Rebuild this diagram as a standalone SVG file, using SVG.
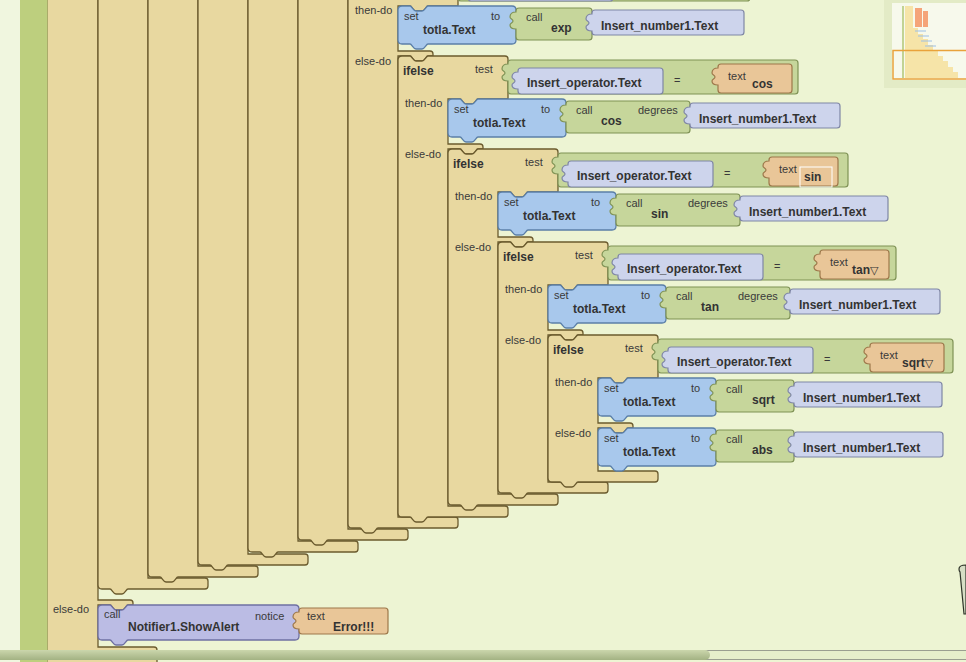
<svg xmlns="http://www.w3.org/2000/svg" width="966" height="662" viewBox="0 0 966 662">
<defs>
<linearGradient id="thumb" x1="0" y1="0" x2="0" y2="1">
<stop offset="0" stop-color="#CBD6AC"/><stop offset="1" stop-color="#A3B283"/>
</linearGradient>
</defs>
<style>
.tan{fill:#E8D8A0;stroke:#6B5B2E;stroke-width:1.3}
.set{fill:#A8C8EC;stroke:#5B7FA8;stroke-width:1.3}
.call{fill:#C6D69B;stroke:#7F9255;stroke-width:1.2}
.val{fill:#CDD4EC;stroke:#7F86A5;stroke-width:1.2}
.txt{fill:#E9C698;stroke:#9D774A;stroke-width:1.2}
.ntf{fill:#BBBCE4;stroke:#6F70A2;stroke-width:1.3}
.lb{font-family:"Liberation Sans",Arial,sans-serif;font-size:11px;fill:#3A3A3A}
.b{font-family:"Liberation Sans",Arial,sans-serif;font-size:12px;font-weight:bold;fill:#333}
.tri{font-family:"DejaVu Sans",sans-serif;font-weight:normal;font-size:11px}
</style>
<rect x="0" y="0" width="966" height="662" fill="#EDF4D3"/>
<rect x="0" y="0" width="20" height="662" fill="#F0F6DF"/>

<g id="block-outer">
<path class="tan" d="M47,-40 H98 V600 H130 q3,0 3,3 V605 H128 c-2,0 -3,5 -6,5 h-6 c-3,0 -4,-5 -6,-5 H98 V647 H154 q3,0 3,3 V670 H47 Z"/>
<text class="lb" x="53" y="613">else-do</text>
</g>
<rect x="20" y="0" width="27.5" height="662" fill="#BDCF7E"/>

<g id="ifelse-98"><path class="tan" d="M98,-40 H148 V578 H205 q3,0 3,3 V586 q0,3 -3,3 H128 c-2,0 -3,5 -6,5 h-6 c-3,0 -4,-5 -6,-5 H102 q-4,0 -4,-4 Z"/></g>
<g id="ifelse-148"><path class="tan" d="M148,-40 H198 V566 H255 q3,0 3,3 V574 q0,3 -3,3 H178 c-2,0 -3,5 -6,5 h-6 c-3,0 -4,-5 -6,-5 H152 q-4,0 -4,-4 Z"/></g>
<g id="ifelse-198"><path class="tan" d="M198,-40 H248 V554 H305 q3,0 3,3 V562 q0,3 -3,3 H228 c-2,0 -3,5 -6,5 h-6 c-3,0 -4,-5 -6,-5 H202 q-4,0 -4,-4 Z"/></g>
<g id="ifelse-248"><path class="tan" d="M248,-40 H298 V541 H355 q3,0 3,3 V549 q0,3 -3,3 H278 c-2,0 -3,5 -6,5 h-6 c-3,0 -4,-5 -6,-5 H252 q-4,0 -4,-4 Z"/></g>
<g id="ifelse-298"><path class="tan" d="M298,-40 H348 V529 H405 q3,0 3,3 V537 q0,3 -3,3 H328 c-2,0 -3,5 -6,5 h-6 c-3,0 -4,-5 -6,-5 H302 q-4,0 -4,-4 Z"/></g>

<g id="ifelse-exp">
<path class="tan" d="M348,-40 H458 V6 H428 c-2,0 -3,5 -6,5 h-6 c-3,0 -4,-5 -6,-5 H398 V51 H430 q3,0 3,3 V56 H428 c-2,0 -3,5 -6,5 h-6 c-3,0 -4,-5 -6,-5 H398 V517 H455 q3,0 3,3 V525 q0,3 -3,3 H378 c-2,0 -3,5 -6,5 h-6 c-3,0 -4,-5 -6,-5 H352 q-4,0 -4,-4 Z"/>
<path class="call" d="M461,-33 H747 q3,0 3,3 V-2 q0,3 -3,3 H461 q-3,0 -3,-3 V-12 c-4,0 -6,-1 -6,-4 c0,-2 3,-2 3,-4 c0,-2 -3,-2 -3,-4 c0,-3 2,-5 6,-5 V-30 q0,-3 3,-3 Z"/>
<path class="val" d="M471,-25 H610 q3,0 3,3 V-2 q0,3 -3,3 H471 q-3,0 -3,-3 V-4 c-4,0 -6,-1 -6,-4 c0,-2 3,-2 3,-4 c0,-2 -3,-2 -3,-4 c0,-3 2,-5 6,-5 V-22 q0,-3 3,-3 Z"/>
<text class="lb" x="355" y="14">then-do</text>
<text class="lb" x="355" y="65">else-do</text>
<path class="set" d="M398,10 q0,-4 4,-4 h8 c2,0 3,5 6,5 h6 c3,0 4,-5 6,-5 H512 q4,0 4,4 V40 q0,4 -4,4 H428 c-2,0 -3,5 -6,5 h-6 c-3,0 -4,-5 -6,-5 H402 q-4,0 -4,-4 Z"/>
<text class="lb" x="404" y="20">set</text><text class="b" x="423" y="34">totla.Text</text><text class="lb" x="491" y="20">to</text>
<path class="call" d="M519,8 H589 q3,0 3,3 V37 q0,3 -3,3 H519 q-3,0 -3,-3 V29 c-4,0 -6,-1 -6,-4 c0,-2 3,-2 3,-4 c0,-2 -3,-2 -3,-4 c0,-3 2,-5 6,-5 V11 q0,-3 3,-3 Z"/>
<text class="lb" x="526" y="21">call</text><text class="b" x="551" y="32">exp</text>
<path class="val" d="M595,10 H741 q3,0 3,3 V32 q0,3 -3,3 H595 q-3,0 -3,-3 V31 c-4,0 -6,-1 -6,-4 c0,-2 3,-2 3,-4 c0,-2 -3,-2 -3,-4 c0,-3 2,-5 6,-5 V13 q0,-3 3,-3 Z"/>
<text class="b" x="601" y="30">Insert_number1.Text</text>
</g>

<g id="ifelse-cos">
<path class="tan" d="M398,60 q0,-4 4,-4 h8 c2,0 3,5 6,5 h6 c3,0 4,-5 6,-5 H505 q3,0 3,3 V99 H478 c-2,0 -3,5 -6,5 h-6 c-3,0 -4,-5 -6,-5 H448 V144 H480 q3,0 3,3 V149 H478 c-2,0 -3,5 -6,5 h-6 c-3,0 -4,-5 -6,-5 H448 V506 H505 q3,0 3,3 V514 q0,3 -3,3 H428 c-2,0 -3,5 -6,5 h-6 c-3,0 -4,-5 -6,-5 H402 q-4,0 -4,-4 Z"/>
<text class="b" x="403" y="75" font-size="13">ifelse</text><text class="lb" x="475" y="73">test</text>
<text class="lb" x="405" y="107">then-do</text><text class="lb" x="405" y="158">else-do</text>
<path class="call" d="M511,60 H795 q3,0 3,3 V91 q0,3 -3,3 H511 q-3,0 -3,-3 V81 c-4,0 -6,-1 -6,-4 c0,-2 3,-2 3,-4 c0,-2 -3,-2 -3,-4 c0,-3 2,-5 6,-5 V63 q0,-3 3,-3 Z"/>
<path class="val" d="M521,68 H660 q3,0 3,3 V91 q0,3 -3,3 H521 q-3,0 -3,-3 V89 c-4,0 -6,-1 -6,-4 c0,-2 3,-2 3,-4 c0,-2 -3,-2 -3,-4 c0,-3 2,-5 6,-5 V71 q0,-3 3,-3 Z"/>
<text class="b" x="527" y="87">Insert_operator.Text</text>
<text class="lb" x="674" y="84">=</text>
<path class="txt" d="M721,64 H789 q3,0 3,3 V90 q0,3 -3,3 H721 q-3,0 -3,-3 V85 c-4,0 -6,-1 -6,-4 c0,-2 3,-2 3,-4 c0,-2 -3,-2 -3,-4 c0,-3 2,-5 6,-5 V67 q0,-3 3,-3 Z"/>
<text class="lb" x="728" y="80">text</text><text class="b" x="752" y="88">cos</text>
<path class="set" d="M448,103 q0,-4 4,-4 h8 c2,0 3,5 6,5 h6 c3,0 4,-5 6,-5 H562 q4,0 4,4 V133 q0,4 -4,4 H478 c-2,0 -3,5 -6,5 h-6 c-3,0 -4,-5 -6,-5 H452 q-4,0 -4,-4 Z"/>
<text class="lb" x="454" y="113">set</text><text class="b" x="473" y="127">totla.Text</text><text class="lb" x="541" y="113">to</text>
<path class="call" d="M569,101 H687 q3,0 3,3 V130 q0,3 -3,3 H569 q-3,0 -3,-3 V122 c-4,0 -6,-1 -6,-4 c0,-2 3,-2 3,-4 c0,-2 -3,-2 -3,-4 c0,-3 2,-5 6,-5 V104 q0,-3 3,-3 Z"/>
<text class="lb" x="576" y="114">call</text><text class="b" x="601" y="125">cos</text><text class="lb" x="638" y="114">degrees</text>
<path class="val" d="M693,103 H837 q3,0 3,3 V125 q0,3 -3,3 H693 q-3,0 -3,-3 V124 c-4,0 -6,-1 -6,-4 c0,-2 3,-2 3,-4 c0,-2 -3,-2 -3,-4 c0,-3 2,-5 6,-5 V106 q0,-3 3,-3 Z"/>
<text class="b" x="699" y="123">Insert_number1.Text</text>
</g>

<g id="ifelse-sin">
<path class="tan" d="M448,153 q0,-4 4,-4 h8 c2,0 3,5 6,5 h6 c3,0 4,-5 6,-5 H555 q3,0 3,3 V192 H528 c-2,0 -3,5 -6,5 h-6 c-3,0 -4,-5 -6,-5 H498 V237 H530 q3,0 3,3 V242 H528 c-2,0 -3,5 -6,5 h-6 c-3,0 -4,-5 -6,-5 H498 V494 H555 q3,0 3,3 V502 q0,3 -3,3 H478 c-2,0 -3,5 -6,5 h-6 c-3,0 -4,-5 -6,-5 H452 q-4,0 -4,-4 Z"/>
<text class="b" x="453" y="168" font-size="13">ifelse</text><text class="lb" x="525" y="166">test</text>
<text class="lb" x="455" y="200">then-do</text><text class="lb" x="455" y="251">else-do</text>
<path class="call" d="M561,153 H845 q3,0 3,3 V184 q0,3 -3,3 H561 q-3,0 -3,-3 V174 c-4,0 -6,-1 -6,-4 c0,-2 3,-2 3,-4 c0,-2 -3,-2 -3,-4 c0,-3 2,-5 6,-5 V156 q0,-3 3,-3 Z"/>
<path class="val" d="M571,161 H710 q3,0 3,3 V184 q0,3 -3,3 H571 q-3,0 -3,-3 V182 c-4,0 -6,-1 -6,-4 c0,-2 3,-2 3,-4 c0,-2 -3,-2 -3,-4 c0,-3 2,-5 6,-5 V164 q0,-3 3,-3 Z"/>
<text class="b" x="577" y="180">Insert_operator.Text</text>
<text class="lb" x="724" y="177">=</text>
<path class="txt" d="M772,157 H835 q3,0 3,3 V183 q0,3 -3,3 H772 q-3,0 -3,-3 V178 c-4,0 -6,-1 -6,-4 c0,-2 3,-2 3,-4 c0,-2 -3,-2 -3,-4 c0,-3 2,-5 6,-5 V160 q0,-3 3,-3 Z"/>
<text class="lb" x="779" y="173">text</text>
<rect x="800" y="167" width="32" height="20" fill="none" stroke="#FFFFFF" stroke-width="1"/>
<text class="b" x="804" y="181">sin</text>
<path class="set" d="M498,196 q0,-4 4,-4 h8 c2,0 3,5 6,5 h6 c3,0 4,-5 6,-5 H612 q4,0 4,4 V226 q0,4 -4,4 H528 c-2,0 -3,5 -6,5 h-6 c-3,0 -4,-5 -6,-5 H502 q-4,0 -4,-4 Z"/>
<text class="lb" x="504" y="206">set</text><text class="b" x="523" y="220">totla.Text</text><text class="lb" x="591" y="206">to</text>
<path class="call" d="M619,194 H737 q3,0 3,3 V223 q0,3 -3,3 H619 q-3,0 -3,-3 V215 c-4,0 -6,-1 -6,-4 c0,-2 3,-2 3,-4 c0,-2 -3,-2 -3,-4 c0,-3 2,-5 6,-5 V197 q0,-3 3,-3 Z"/>
<text class="lb" x="626" y="207">call</text><text class="b" x="651" y="218">sin</text><text class="lb" x="688" y="207">degrees</text>
<path class="val" d="M743,196 H885 q3,0 3,3 V218 q0,3 -3,3 H743 q-3,0 -3,-3 V217 c-4,0 -6,-1 -6,-4 c0,-2 3,-2 3,-4 c0,-2 -3,-2 -3,-4 c0,-3 2,-5 6,-5 V199 q0,-3 3,-3 Z"/>
<text class="b" x="749" y="216">Insert_number1.Text</text>
</g>

<g id="ifelse-tan">
<path class="tan" d="M498,246 q0,-4 4,-4 h8 c2,0 3,5 6,5 h6 c3,0 4,-5 6,-5 H605 q3,0 3,3 V285 H578 c-2,0 -3,5 -6,5 h-6 c-3,0 -4,-5 -6,-5 H548 V330 H580 q3,0 3,3 V335 H578 c-2,0 -3,5 -6,5 h-6 c-3,0 -4,-5 -6,-5 H548 V482 H605 q3,0 3,3 V490 q0,3 -3,3 H528 c-2,0 -3,5 -6,5 h-6 c-3,0 -4,-5 -6,-5 H502 q-4,0 -4,-4 Z"/>
<text class="b" x="503" y="261" font-size="13">ifelse</text><text class="lb" x="575" y="259">test</text>
<text class="lb" x="505" y="293">then-do</text><text class="lb" x="505" y="344">else-do</text>
<path class="call" d="M611,246 H893 q3,0 3,3 V277 q0,3 -3,3 H611 q-3,0 -3,-3 V267 c-4,0 -6,-1 -6,-4 c0,-2 3,-2 3,-4 c0,-2 -3,-2 -3,-4 c0,-3 2,-5 6,-5 V249 q0,-3 3,-3 Z"/>
<path class="val" d="M621,254 H760 q3,0 3,3 V277 q0,3 -3,3 H621 q-3,0 -3,-3 V275 c-4,0 -6,-1 -6,-4 c0,-2 3,-2 3,-4 c0,-2 -3,-2 -3,-4 c0,-3 2,-5 6,-5 V257 q0,-3 3,-3 Z"/>
<text class="b" x="627" y="273">Insert_operator.Text</text>
<text class="lb" x="774" y="270">=</text>
<path class="txt" d="M823,250 H886 q3,0 3,3 V276 q0,3 -3,3 H823 q-3,0 -3,-3 V271 c-4,0 -6,-1 -6,-4 c0,-2 3,-2 3,-4 c0,-2 -3,-2 -3,-4 c0,-3 2,-5 6,-5 V253 q0,-3 3,-3 Z"/>
<text class="lb" x="830" y="266">text</text><text class="b" x="852" y="274">tan<tspan class="tri">▽</tspan></text>
<path class="set" d="M548,289 q0,-4 4,-4 h8 c2,0 3,5 6,5 h6 c3,0 4,-5 6,-5 H662 q4,0 4,4 V319 q0,4 -4,4 H578 c-2,0 -3,5 -6,5 h-6 c-3,0 -4,-5 -6,-5 H552 q-4,0 -4,-4 Z"/>
<text class="lb" x="554" y="299">set</text><text class="b" x="573" y="313">totla.Text</text><text class="lb" x="641" y="299">to</text>
<path class="call" d="M669,287 H787 q3,0 3,3 V316 q0,3 -3,3 H669 q-3,0 -3,-3 V308 c-4,0 -6,-1 -6,-4 c0,-2 3,-2 3,-4 c0,-2 -3,-2 -3,-4 c0,-3 2,-5 6,-5 V290 q0,-3 3,-3 Z"/>
<text class="lb" x="676" y="300">call</text><text class="b" x="701" y="311">tan</text><text class="lb" x="738" y="300">degrees</text>
<path class="val" d="M793,289 H937 q3,0 3,3 V311 q0,3 -3,3 H793 q-3,0 -3,-3 V310 c-4,0 -6,-1 -6,-4 c0,-2 3,-2 3,-4 c0,-2 -3,-2 -3,-4 c0,-3 2,-5 6,-5 V292 q0,-3 3,-3 Z"/>
<text class="b" x="799" y="309">Insert_number1.Text</text>
</g>

<g id="ifelse-sqrt">
<path class="tan" d="M548,339 q0,-4 4,-4 h8 c2,0 3,5 6,5 h6 c3,0 4,-5 6,-5 H655 q3,0 3,3 V378 H628 c-2,0 -3,5 -6,5 h-6 c-3,0 -4,-5 -6,-5 H598 V423 H630 q3,0 3,3 V428 H628 c-2,0 -3,5 -6,5 h-6 c-3,0 -4,-5 -6,-5 H598 V471 H655 q3,0 3,3 V479 q0,3 -3,3 H578 c-2,0 -3,5 -6,5 h-6 c-3,0 -4,-5 -6,-5 H552 q-4,0 -4,-4 Z"/>
<text class="b" x="553" y="354" font-size="13">ifelse</text><text class="lb" x="625" y="352">test</text>
<text class="lb" x="555" y="386">then-do</text><text class="lb" x="555" y="437">else-do</text>
<path class="call" d="M661,339 H950 q3,0 3,3 V370 q0,3 -3,3 H661 q-3,0 -3,-3 V360 c-4,0 -6,-1 -6,-4 c0,-2 3,-2 3,-4 c0,-2 -3,-2 -3,-4 c0,-3 2,-5 6,-5 V342 q0,-3 3,-3 Z"/>
<path class="val" d="M671,347 H810 q3,0 3,3 V370 q0,3 -3,3 H671 q-3,0 -3,-3 V368 c-4,0 -6,-1 -6,-4 c0,-2 3,-2 3,-4 c0,-2 -3,-2 -3,-4 c0,-3 2,-5 6,-5 V350 q0,-3 3,-3 Z"/>
<text class="b" x="677" y="366">Insert_operator.Text</text>
<text class="lb" x="824" y="363">=</text>
<path class="txt" d="M873,343 H941 q3,0 3,3 V369 q0,3 -3,3 H873 q-3,0 -3,-3 V364 c-4,0 -6,-1 -6,-4 c0,-2 3,-2 3,-4 c0,-2 -3,-2 -3,-4 c0,-3 2,-5 6,-5 V346 q0,-3 3,-3 Z"/>
<text class="lb" x="880" y="359">text</text><text class="b" x="902" y="367">sqrt<tspan class="tri">▽</tspan></text>
<path class="set" d="M598,382 q0,-4 4,-4 h8 c2,0 3,5 6,5 h6 c3,0 4,-5 6,-5 H712 q4,0 4,4 V412 q0,4 -4,4 H628 c-2,0 -3,5 -6,5 h-6 c-3,0 -4,-5 -6,-5 H602 q-4,0 -4,-4 Z"/>
<text class="lb" x="604" y="392">set</text><text class="b" x="623" y="406">totla.Text</text><text class="lb" x="691" y="392">to</text>
<path class="call" d="M719,380 H791 q3,0 3,3 V409 q0,3 -3,3 H719 q-3,0 -3,-3 V401 c-4,0 -6,-1 -6,-4 c0,-2 3,-2 3,-4 c0,-2 -3,-2 -3,-4 c0,-3 2,-5 6,-5 V383 q0,-3 3,-3 Z"/>
<text class="lb" x="726" y="393">call</text><text class="b" x="752" y="404">sqrt</text>
<path class="val" d="M797,382 H939 q3,0 3,3 V404 q0,3 -3,3 H797 q-3,0 -3,-3 V403 c-4,0 -6,-1 -6,-4 c0,-2 3,-2 3,-4 c0,-2 -3,-2 -3,-4 c0,-3 2,-5 6,-5 V385 q0,-3 3,-3 Z"/>
<text class="b" x="803" y="402">Insert_number1.Text</text>
<path class="set" d="M598,432 q0,-4 4,-4 h8 c2,0 3,5 6,5 h6 c3,0 4,-5 6,-5 H712 q4,0 4,4 V462 q0,4 -4,4 H628 c-2,0 -3,5 -6,5 h-6 c-3,0 -4,-5 -6,-5 H602 q-4,0 -4,-4 Z"/>
<text class="lb" x="604" y="442">set</text><text class="b" x="623" y="456">totla.Text</text><text class="lb" x="691" y="442">to</text>
<path class="call" d="M719,430 H791 q3,0 3,3 V459 q0,3 -3,3 H719 q-3,0 -3,-3 V451 c-4,0 -6,-1 -6,-4 c0,-2 3,-2 3,-4 c0,-2 -3,-2 -3,-4 c0,-3 2,-5 6,-5 V433 q0,-3 3,-3 Z"/>
<text class="lb" x="726" y="443">call</text><text class="b" x="752" y="454">abs</text>
<path class="val" d="M797,432 H940 q3,0 3,3 V454 q0,3 -3,3 H797 q-3,0 -3,-3 V453 c-4,0 -6,-1 -6,-4 c0,-2 3,-2 3,-4 c0,-2 -3,-2 -3,-4 c0,-3 2,-5 6,-5 V435 q0,-3 3,-3 Z"/>
<text class="b" x="803" y="452">Insert_number1.Text</text>
</g>

<g id="notifier">
<path class="ntf" d="M98,609 q0,-4 4,-4 h8 c2,0 3,5 6,5 h6 c3,0 4,-5 6,-5 H295 q4,0 4,4 V636 q0,4 -4,4 H128 c-2,0 -3,5 -6,5 h-6 c-3,0 -4,-5 -6,-5 H102 q-4,0 -4,-4 Z"/>
<text class="lb" x="104" y="618">call</text><text class="b" x="128" y="631">Notifier1.ShowAlert</text><text class="lb" x="255" y="620">notice</text>
<path class="txt" d="M302,608 H385 q3,0 3,3 V631 q0,3 -3,3 H302 q-3,0 -3,-3 V629 c-4,0 -6,-1 -6,-4 c0,-2 3,-2 3,-4 c0,-2 -3,-2 -3,-4 c0,-3 2,-5 6,-5 V611 q0,-3 3,-3 Z"/>
<text class="lb" x="307" y="620">text</text><text class="b" x="333" y="631">Error!!!</text>
</g>

<g id="connectors"></g>

<g id="scrollbar">
<rect x="0" y="650" width="966" height="10" fill="#E6EECB"/>
<line x1="0" y1="650.5" x2="966" y2="650.5" stroke="#9A9E90" stroke-width="1"/>
<line x1="0" y1="659.5" x2="966" y2="659.5" stroke="#9A9E90" stroke-width="1"/>
<rect x="-6" y="650" width="716" height="10" rx="5" fill="url(#thumb)"/>
</g>

<g id="trash">
<path d="M966,565 q-7,0 -7,4 q0,2 1,3 l4,42 h2 V565 Z" fill="#D6DEC4" stroke="#2E3328" stroke-width="1.2"/>
</g>

<g id="minimap">
<rect x="884" y="0" width="90" height="88" fill="#DCE5BE" opacity="0.6"/>
<rect x="892" y="3" width="80" height="77" fill="#F7F9EC"/>
<rect x="902" y="6" width="2" height="72" fill="#C2D394"/>
<path d="M905,6 H913 V28 H918 V34 H923 V39 H928 V45 H933 V50 H938 V56 H943 V61 H948 V67 H953 V72 H958 V78 H905 Z" fill="#F6E4A8"/>
<rect x="915" y="8" width="7" height="19" fill="#F5A479"/>
<rect x="923" y="11" width="5" height="16" fill="#F5A479"/>
<g stroke="#9CBFE6" stroke-width="1">
<line x1="915" y1="31" x2="926" y2="31"/><line x1="918" y1="36" x2="929" y2="36"/>
<line x1="921" y1="41" x2="932" y2="41"/><line x1="925" y1="46" x2="936" y2="46"/>
</g>
<rect x="893" y="50.5" width="80" height="28.5" fill="none" stroke="#E9A23B" stroke-width="1.5"/>
</g>
</svg>
